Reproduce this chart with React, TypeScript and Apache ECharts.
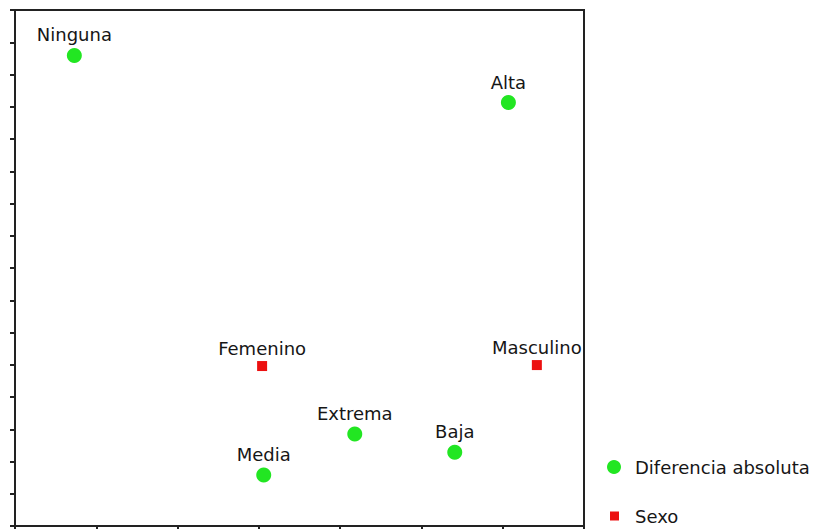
import React, { useEffect, useRef } from "react";
import * as echarts from "echarts";

// Category points of the two variables (dimension 1 on x, dimension 2 on y)
const diferenciaNames = ["Ninguna", "Alta", "Extrema", "Baja", "Media"];
const diferenciaX = [0.73, 6.07, 4.18, 5.41, 3.06];
const diferenciaY = [14.59, 13.13, 2.85, 2.29, 1.58];

const sexoNames = ["Femenino", "Masculino"];
const sexoX = [3.04, 6.42];
const sexoY = [4.96, 4.99];

const seriesNames = ["Diferencia absoluta", "Sexo"];

const GREEN = "#22e622";
const RED = "#ec1010";
const FONT = "DejaVu Sans";
const TEXT = "#161616";

export default function App() {
  const ref = useRef<HTMLDivElement>(null);

  useEffect(() => {
    if (!ref.current) return;
    const chart = echarts.init(ref.current, undefined, { renderer: "svg" });

    const toPoints = (names: string[], xs: number[], ys: number[]) =>
      names.map((n, i) => ({ name: n, value: [xs[i], ys[i]] }));

    const labelStyle = {
      show: true,
      position: "top" as const,
      distance: 4,
      formatter: "{b}",
      color: TEXT,
      fontFamily: FONT,
      fontSize: 18,
    };

    const axisCommon = {
      type: "value" as const,
      interval: 1,
      axisLabel: { show: false },
      splitLine: { show: false },
      axisTick: { show: true, inside: false, length: 5, lineStyle: { color: "#222", width: 2 } },
      axisLine: { show: true, onZero: false, lineStyle: { color: "#222", width: 2 } },
    };

    chart.setOption({
      animation: false,
      backgroundColor: "#ffffff",
      grid: {
        left: 15,
        top: 10,
        width: 569,
        height: 516,
        show: true,
        borderColor: "#222",
        borderWidth: 2,
        backgroundColor: "transparent",
      },
      xAxis: { ...axisCommon, min: 0, max: 7 },
      yAxis: { ...axisCommon, min: 0, max: 16 },
      legend: [
        {
          data: [seriesNames[0]],
          left: 602,
          top: 453,
          icon: "circle",
          itemWidth: 14,
          itemHeight: 14,
          textStyle: { color: TEXT, fontFamily: FONT, fontSize: 18, padding: [0, 0, 0, 9] },
        },
        {
          data: [seriesNames[1]],
          left: 605,
          top: 502,
          icon: "rect",
          itemWidth: 9,
          itemHeight: 9,
          textStyle: { color: TEXT, fontFamily: FONT, fontSize: 18, padding: [0, 0, 0, 11] },
        },
      ],
      series: [
        {
          name: seriesNames[0],
          type: "scatter",
          symbol: "circle",
          symbolSize: 15,
          itemStyle: { color: GREEN, opacity: 1 },
          label: labelStyle,
          data: toPoints(diferenciaNames, diferenciaX, diferenciaY),
        },
        {
          name: seriesNames[1],
          type: "scatter",
          symbol: "rect",
          symbolSize: 10,
          itemStyle: { color: RED, opacity: 1 },
          label: labelStyle,
          data: toPoints(sexoNames, sexoX, sexoY),
        },
      ],
    });

    return () => chart.dispose();
  }, []);

  return (
    <div
      ref={ref}
      style={{ position: "fixed", left: 0, top: 0, width: 818, height: 529, background: "#fff" }}
    />
  );
}
